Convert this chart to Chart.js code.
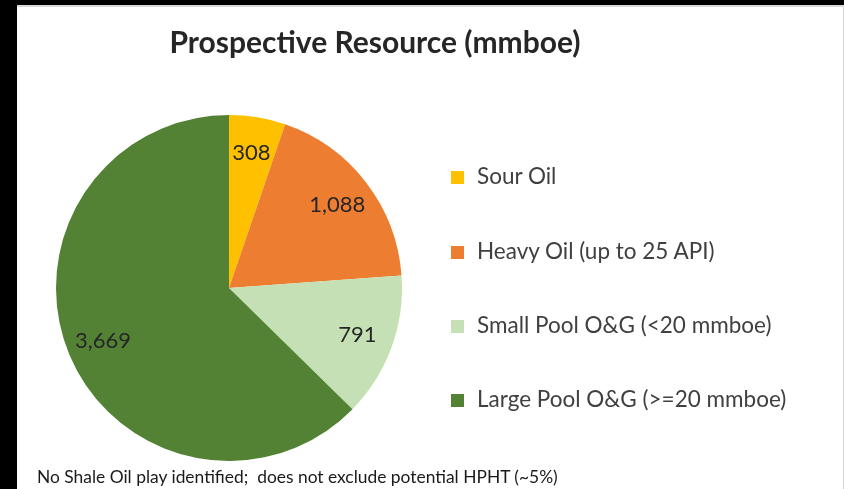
<!DOCTYPE html>
<html>
<head>
<meta charset="utf-8">
<script src="https://cdn.jsdelivr.net/npm/chart.js@4.4.1/dist/chart.umd.min.js"></script>
<style>
  html, body { margin: 0; padding: 0; background: #fff; }
  body { width: 844px; height: 489px; position: relative; overflow: hidden; font-family: Lato, "Open Sans", sans-serif; }
  #wrap { position: absolute; left: 0; top: 0; width: 844px; height: 489px; }
  .bar { position: absolute; background: #000; }
  .t { position: absolute; white-space: nowrap; line-height: 1; }
  #title { left: 0; width: 750px; text-align: center; top: 26px; font-size: 30px; font-weight: 700; color: #262626; }
  #legend { position: absolute; left: 451px; top: 0; }
  .li { position: absolute; left: 0; white-space: nowrap; font-size: 22.5px; color: #404040; line-height: 1; }
  .sw { position: absolute; left: 0; width: 13px; height: 13px; }
  .lt { position: absolute; left: 26px; }
  #note { left: 37px; top: 468px; font-size: 17.4px; color: #1a1a1a; }
</style>
</head>
<body>
<div id="wrap"><canvas id="c" width="844" height="489"></canvas></div>
<div class="bar" style="left:0;top:0;width:844px;height:5px;"></div>
<div style="position:absolute;left:17px;top:5px;width:827px;height:2px;background:#d9d9d9;"></div>
<div style="position:absolute;left:843px;top:5px;width:1px;height:484px;background:#d9d9d9;"></div>
<div class="bar" style="left:0;top:0;width:17px;height:489px;"></div>
<div class="t" id="title">Prospective Resource (mmboe)</div>
<div id="legend"></div>
<div class="t" id="note">No Shale Oil play identified;&nbsp; does not exclude potential HPHT (~5%)</div>
<script>
const categories = ["Sour Oil", "Heavy Oil (up to 25 API)", "Small Pool O&G (<20 mmboe)", "Large Pool O&G (>=20 mmboe)"];
const values = [308, 1088, 791, 3669];
const valueLabels = ["308", "1,088", "791", "3,669"];
const colors = ["#FFC000", "#ED7D31", "#C5E0B4", "#548235"];

// HTML legend built from the data arrays
const legendRowsTop = [171, 246, 320, 394];
const leg = document.getElementById('legend');
categories.forEach((name, i) => {
  const row = document.createElement('div');
  row.className = 'li';
  row.style.top = legendRowsTop[i] + 'px';
  const sw = document.createElement('div');
  sw.className = 'sw';
  sw.style.background = colors[i];
  sw.style.top = '0px';
  const tx = document.createElement('div');
  tx.className = 'lt';
  tx.style.top = '-6px';
  tx.textContent = name;
  row.appendChild(sw);
  row.appendChild(tx);
  leg.appendChild(row);
});

const labelPlugin = {
  id: 'sliceLabels',
  afterDatasetsDraw(chart) {
    const ctx = chart.ctx;
    const meta = chart.getDatasetMeta(0);
    ctx.save();
    ctx.font = '22px Lato, "Open Sans", sans-serif';
    ctx.fillStyle = '#262626';
    ctx.textAlign = 'center';
    ctx.textBaseline = 'middle';
    meta.data.forEach((arc, i) => {
      const p = arc.getProps(['x', 'y', 'startAngle', 'endAngle', 'outerRadius'], true);
      const mid = (p.startAngle + p.endAngle) / 2;
      const r = p.outerRadius * 0.79;
      ctx.fillText(valueLabels[i], p.x + Math.cos(mid) * r, p.y + Math.sin(mid) * r);
    });
    ctx.restore();
  }
};

new Chart(document.getElementById('c'), {
  type: 'pie',
  data: {
    labels: categories,
    datasets: [{
      data: values,
      backgroundColor: colors,
      borderWidth: 0
    }]
  },
  options: {
    responsive: false,
    animation: false,
    layout: { padding: { left: 56, top: 115, right: 442, bottom: 28 } },
    plugins: {
      legend: { display: false },
      title: { display: false },
      tooltip: { enabled: false }
    }
  },
  plugins: [labelPlugin]
});
</script>
</body>
</html>
